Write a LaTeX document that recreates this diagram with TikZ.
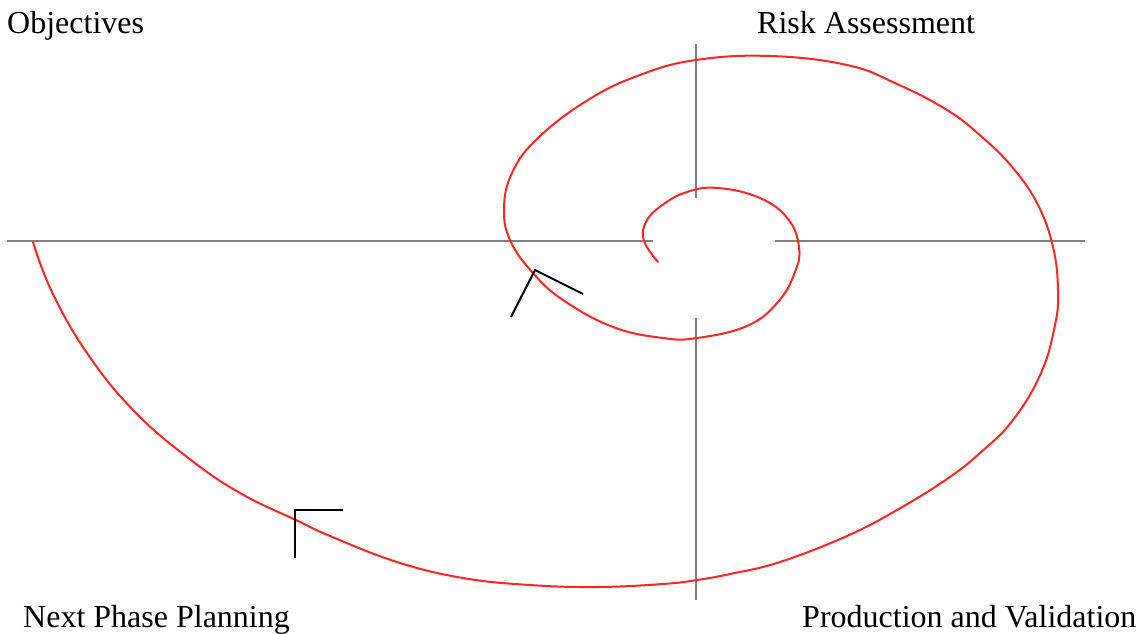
\documentclass[tikz,border=0pt]{standalone}
\usepackage{fontspec}
\setmainfont{Liberation Serif}
\begin{document}
\begin{tikzpicture}[x=1pt,y=-1pt,
  axis/.style={draw=black!50,line width=2pt},
  spiral/.style={draw=red!85,line width=2pt,line cap=round},
  tickmk/.style={draw=black,line width=2pt},
  lbl/.style={font=\fontsize{32}{38}\selectfont,inner sep=0pt,anchor=base west}]
\useasboundingbox (0,0) rectangle (1143,634);
% axes
\coordinate (hl1) at (7,241);
\coordinate (hl2) at (653,241);
\coordinate (hr1) at (775,241);
\coordinate (hr2) at (1085,241);
\coordinate (vt1) at (696,44);
\coordinate (vt2) at (696,198);
\coordinate (vb1) at (696,318);
\coordinate (vb2) at (696,600);
\draw[axis] (hl1) -- (hl2);
\draw[axis] (hr1) -- (hr2);
\draw[axis] (vt1) -- (vt2);
\draw[axis] (vb1) -- (vb2);
% spiral
\draw[spiral] plot[smooth,tension=0.7] coordinates {
 (658,262) (644,241) (646,222) (661,206) (687,192) (718,188) (760,198)
 (788,219) (799,247) (795,272) (778,302) (747,326) (697,338) (663,338)
 (613,327) (563,300) (533,273) (511,242) (504,210) (512,173) (538,138)
 (588,100) (640,75) (696,60) (770,56) (847,65) (897,84) (947,110)
 (982,137) (1013,168) (1038,205) (1053,247) (1058,290) (1055,325)
 (1041,373) (1013,420) (980,453) (947,479) (897,510) (847,536)
 (780,562) (730,574) (697,580) (663,584) (597,587) (530,585) (463,578)
 (397,562) (330,536) (298,521) (240,493) (187,457) (133,410) (87,353)
 (52,292) (33,242)};
% direction marks
\coordinate (m1a) at (295,558);
\coordinate (m1b) at (295,510);
\coordinate (m1c) at (343,510);
\draw[tickmk] (m1a) -- (m1b) -- (m1c);
\coordinate (m2a) at (511,317);
\coordinate (m2b) at (535,270);
\coordinate (m2c) at (583,294);
\draw[tickmk] (m2a) -- (m2b) -- (m2c);
% labels
\node[lbl] (obj) at (7,34) {Objectives};
\node[lbl] (risk) at (757,34) {Risk Assessment};
\node[lbl] (next) at (23,627) {Next Phase Planning};
\node[lbl] (prod) at (802,627) {Production and Validation};
\end{tikzpicture}
\end{document}
